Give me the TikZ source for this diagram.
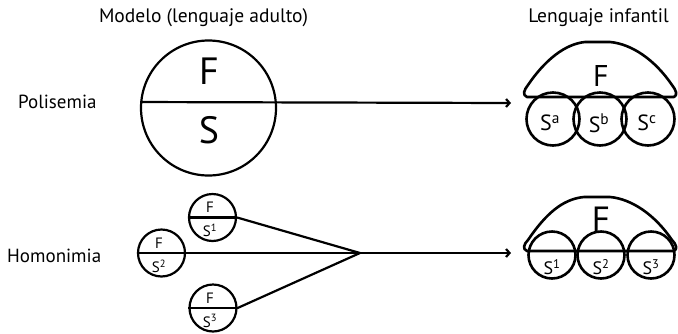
\documentclass[tikz,border=0pt]{standalone}
\usepackage{fontspec}
\setmainfont{PT Sans}
\usetikzlibrary{arrows.meta,calc}
\begin{document}
\begin{tikzpicture}[x=1pt,y=-1pt,
  ring/.style={circle,draw,line width=2.2pt,inner sep=0pt,minimum size=#1},
  ringR/.style={circle,draw,line width=2.6pt,inner sep=0pt,minimum size=#1},
  dome/.style={line width=2.6pt,line join=round},
  conn/.style={line width=2.2pt},
  arr/.style={conn,-{Straight Barb[length=3.5pt,width=8pt]}},
  title/.style={inner sep=0pt,anchor=base,font=\fontsize{19.5}{21}\selectfont},
  side/.style={inner sep=0pt,anchor=base west,font=\fontsize{19}{21}\selectfont},
  txt/.style={inner sep=0pt,font=\fontsize{#1}{#1}\selectfont},
]
\useasboundingbox (0,0) rectangle (678,333);

% titles and row labels
\node[title] (t1) at (203.5,22) {Modelo (lenguaje adulto)};
\node[title] (t2) at (598.5,22) {Lenguaje infantil};
\node[side] (l1) at (18,108) {Polisemia};
\node[side] (l2) at (7,262) {Homonimia};

% ---------- Polisemia ----------
\node[ring=135pt] (pbig) at (208.5,108) {};
\node[txt=38] (pF) at (209,71) {F};
\node[txt=38] (pS) at (209,130) {S};
\coordinate (pend) at (511,103);
\draw[arr] (pbig.175.75) -- (pend);

\draw[dome] (527,97) .. controls (522,95) and (524,90) .. (528,85)
  .. controls (545,60) and (565,44) .. (585,42) -- (610,42)
  .. controls (632,44) and (655,60) .. (672,85)
  .. controls (676,90) and (678,95) .. (674,97) -- cycle;
\node[txt=30] (pF2) at (601,75.5) {F};
\node[ringR=53pt] (pa) at (553,119) {};
\node[ringR=53pt] (pb) at (600,119) {};
\node[ringR=53pt] (pc) at (648,119) {};
\node[txt=22] (pat) at (550,123) {S\textsuperscript{a}};
\node[txt=22] (pbt) at (599,123) {S\textsuperscript{b}};
\node[txt=22] (pct) at (647,123) {S\textsuperscript{c}};

% ---------- Homonimia ----------
\node[ring=47pt] (h1) at (212.5,217.5) {};
\node[ring=47pt] (h2) at (161.5,253) {};
\node[ring=47pt] (h3) at (213,308) {};
\draw[conn] (h1.west) -- (h1.east);
\draw[conn] (h3.west) -- (h3.east);
\node[txt=15] (h1F) at (210,207) {F};
\node[txt=15] (h1S) at (210,230) {S\textsuperscript{1}};
\node[txt=15] (h2F) at (159,243) {F};
\node[txt=15] (h2S) at (159,266) {S\textsuperscript{2}};
\node[txt=15] (h3F) at (210,298) {F};
\node[txt=15] (h3S) at (210,321) {S\textsuperscript{3}};
\coordinate (hjoin) at (360,253);
\coordinate (hend) at (511,253);
\draw[conn,line join=round] (h1.east) -- (hjoin) -- (h3.east);
\draw[arr] (h2.west) -- (hend);

\draw[dome] (527,251) .. controls (522,249) and (524,244) .. (528,240)
  .. controls (545,215) and (562,199) .. (584,197) -- (610,197)
  .. controls (632,199) and (655,215) .. (672,240)
  .. controls (676,244) and (678,249) .. (674,251) -- cycle;
\node[txt=35] (hF) at (601,219.5) {F};
\node[ringR=47pt] (hr1) at (552,255) {};
\node[ringR=47pt] (hr2) at (601,255) {};
\node[ringR=47pt] (hr3) at (651,255) {};
\node[txt=18] (hr1t) at (552,267) {S\textsuperscript{1}};
\node[txt=18] (hr2t) at (601,267) {S\textsuperscript{2}};
\node[txt=18] (hr3t) at (651,267) {S\textsuperscript{3}};
\end{tikzpicture}
\end{document}
